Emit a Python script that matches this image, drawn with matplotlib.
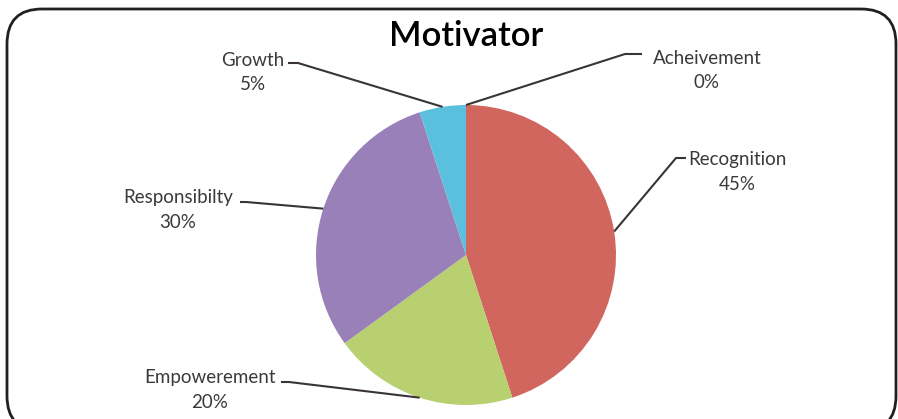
import numpy as np
import matplotlib
matplotlib.use("Agg")
import matplotlib.pyplot as plt
from matplotlib.patches import FancyBboxPatch

categories = ["Acheivement", "Recognition", "Empowerement", "Responsibilty", "Growth"]
values = [0, 45, 20, 30, 5]
colors = ["#4F81BD", "#D0665E", "#B8D06F", "#9A80B8", "#5BC0DE"]
title = "Motivator"

W, H = 898, 419
fig = plt.figure(figsize=(W / 100, H / 100), dpi=100)
ax = fig.add_axes([0, 0, 1, 1])
plt.rcParams['font.family'] = ['Lato', 'DejaVu Sans']

cx, cy, r = 466, H - 255, 150
wedges, _ = ax.pie(values, colors=colors, startangle=90, counterclock=False,
                   center=(cx, cy), radius=r, frame=False,
                   wedgeprops=dict(linewidth=0))
ax.set_xlim(0, W)
ax.set_ylim(0, H)
ax.set_aspect('auto')
ax.axis('off')

# frame
frame = FancyBboxPatch((7, -12), 889, 422, boxstyle="round,pad=0,rounding_size=35",
                       fill=False, edgecolor="#231F20", linewidth=2.0, clip_on=False)
ax.add_patch(frame)

ax.text(466, H - 36, title, ha='center', va='center', fontsize=25, color='black',
        weight='semibold', family=['Lato', 'DejaVu Sans'])

# label layout: (text center x, name y from top), line start, elbow
layout = {
    "Acheivement": ((707, 58), (642, 54), (625, 54)),
    "Recognition": ((737, 160), (686, 158), (676, 158)),
    "Empowerement": ((210, 377), (281, 382), (289, 382)),
    "Responsibilty": ((178, 198), (240, 202), (246, 202)),
    "Growth": ((253, 60), (288, 63), (298, 63)),
}

total = sum(values)
cum = 0
for cat, v in zip(categories, values):
    mid = 90 - (cum + v / 2) / total * 360
    cum += v
    ax_x = cx + r * np.cos(np.radians(mid))
    ax_y = cy + r * np.sin(np.radians(mid))
    (tx, ty), (sx, sy), (ex, ey) = layout[cat]
    pct = f"{v / total * 100:.0f}%"
    ax.text(tx, H - ty, cat, ha='center', va='center', fontsize=13.5, color='#3a3a3a')
    ax.text(tx, H - ty - 25, pct, ha='center', va='center', fontsize=13.5, color='#3a3a3a')
    ax.plot([sx, ex, ax_x], [H - sy, H - ey, ax_y], color='#3a3434', linewidth=1.5,
            solid_capstyle='butt')

fig.savefig("out.png", dpi=100)
